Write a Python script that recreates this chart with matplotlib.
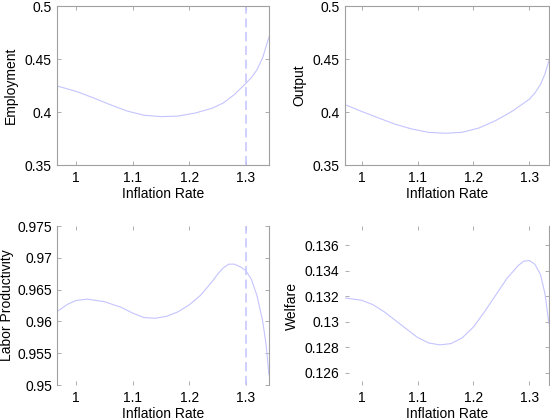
import matplotlib
matplotlib.use("Agg")
import matplotlib.pyplot as plt

plt.rcParams["font.family"] = ["Liberation Sans", "DejaVu Sans"]
plt.rcParams["font.size"] = 10

# Employment (top left)
emp_x = [0.967, 1.0, 1.03, 1.06, 1.09, 1.12, 1.15, 1.18, 1.21, 1.24, 1.26, 1.28, 1.3, 1.31,
         1.32, 1.33, 1.341]
emp_y = [0.4245, 0.4195, 0.4135, 0.4070, 0.4010, 0.3970, 0.3957, 0.3962, 0.3990, 0.4035,
         0.4085, 0.4166, 0.4270, 0.4325, 0.4400, 0.4515, 0.4707]

# Output (top right)
out_x = [0.970, 1.0, 1.03, 1.06, 1.09, 1.12, 1.15, 1.18, 1.21, 1.24, 1.27, 1.3, 1.31,
         1.32, 1.328, 1.335]
out_y = [0.4070, 0.4006, 0.3945, 0.3885, 0.3840, 0.3808, 0.3800, 0.3809, 0.3850, 0.3920,
         0.4010, 0.4121, 0.4180, 0.4260, 0.4360, 0.4484]

# Labor productivity (bottom left)
lp_x = [0.967, 0.985, 1.0, 1.02, 1.05, 1.08, 1.1, 1.12, 1.14, 1.16, 1.18, 1.2, 1.22, 1.24,
        1.25, 1.26, 1.27, 1.28, 1.29, 1.3, 1.31, 1.32, 1.33, 1.336, 1.341]
lp_y = [0.9616, 0.9627, 0.9633, 0.9635, 0.9631, 0.9622, 0.9613, 0.9606, 0.9605, 0.9608,
        0.9615, 0.9626, 0.9641, 0.9662, 0.9674, 0.9684, 0.9690, 0.9690, 0.9686, 0.9680,
        0.9666, 0.9640, 0.9600, 0.9563, 0.9516]

# Welfare (bottom right)
wel_x = [0.970, 1.0, 1.02, 1.04, 1.06, 1.08, 1.1, 1.12, 1.14, 1.16, 1.18, 1.2, 1.22, 1.24,
         1.26, 1.28, 1.29, 1.3, 1.31, 1.32, 1.328, 1.335]
wel_y = [0.13187, 0.13169, 0.13135, 0.13080, 0.13013, 0.12945, 0.12878, 0.12835, 0.12820,
         0.12830, 0.12875, 0.12960, 0.13080, 0.13210, 0.13340, 0.13440, 0.13475, 0.13480,
         0.13450, 0.13370, 0.13220, 0.12987]

x_ticks = [1.0, 1.1, 1.2, 1.3]
x_ticklabels = ["1", "1.1", "1.2", "1.3"]
vline_x = 1.3

line_color = "#c4c4ff"
frame_color = "#a0a0a0"

fig = plt.figure(figsize=(5.5, 4.2), dpi=100)

panels = [
    # position, x, y, xlim, ylim, yticks, yticklabels, ylabel, ylabel x, vline, hidden spines
    ([0.1045, 0.607, 0.3845, 0.3786], emp_x, emp_y, (0.967, 1.341), (0.35, 0.5),
     [0.35, 0.4, 0.45, 0.5], ["0.35", "0.4", "0.45", "0.5"], "Employment", -0.185, True, []),
    ([0.627, 0.607, 0.371, 0.3786], out_x, out_y, (0.970, 1.335), (0.35, 0.5),
     [0.35, 0.4, 0.45, 0.5], ["0.35", "0.4", "0.45", "0.5"], "Output", -0.19, False, []),
    ([0.1045, 0.0833, 0.3845, 0.3786], lp_x, lp_y, (0.967, 1.341), (0.95, 0.975),
     [0.95, 0.955, 0.96, 0.965, 0.97, 0.975],
     ["0.95", "0.955", "0.96", "0.965", "0.97", "0.975"], "Labor Productivity", -0.205, True,
     ["top", "bottom"]),
    ([0.627, 0.0833, 0.371, 0.3786], wel_x, wel_y, (0.970, 1.335), (0.12506, 0.1375),
     [0.126, 0.128, 0.13, 0.132, 0.134, 0.136],
     ["0.126", "0.128", "0.13", "0.132", "0.134", "0.136"], "Welfare", -0.225, False,
     ["top", "bottom", "left"]),
]

for pos, xs, ys, xlim, ylim, yt, ytl, ylabel, ylab_x, vline, hidden in panels:
    ax = fig.add_axes(pos)
    ax.plot(xs, ys, color=line_color, linewidth=0.8)
    if vline:
        ax.axvline(vline_x, color=line_color, linewidth=1.1, linestyle=(0, (6, 3)))
    ax.set_xlim(*xlim)
    ax.set_ylim(*ylim)
    ax.set_xticks(x_ticks)
    ax.set_xticklabels(x_ticklabels)
    ax.set_yticks(yt)
    ax.set_yticklabels(ytl)
    ax.set_xlabel("Inflation Rate", labelpad=2)
    ax.set_ylabel(ylabel)
    ax.yaxis.set_label_coords(ylab_x, 0.5)
    ax.tick_params(direction="in", length=3, width=0.6, color=frame_color,
                   top=True, right=True, labelsize=10, pad=4)
    for name, sp in ax.spines.items():
        sp.set_color(frame_color)
        sp.set_linewidth(0.8)
        if name in hidden:
            sp.set_visible(False)

fig.savefig("out.png", dpi=100)
